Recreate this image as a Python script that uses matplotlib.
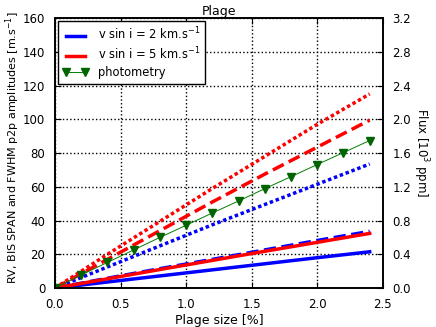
import matplotlib
matplotlib.use('Agg')
from matplotlib import pyplot as plt

# data
size = [0.0, 0.4, 0.8, 1.2, 1.6, 2.0, 2.4]
blue_solid = [0, 3.6, 7.2, 10.8, 14.4, 18.0, 21.5]
blue_dashed = [0, 5.8, 11.5, 17.0, 22.6, 28.2, 33.6]
blue_dotted = [0, 12.5, 25.0, 37.5, 49.5, 61.5, 73.5]
red_solid = [0, 5.5, 11.0, 16.4, 21.8, 27.1, 32.4]
red_dashed = [0, 17.0, 34.0, 51.0, 67.5, 83.5, 99.5]
red_dotted = [0, 20.0, 39.5, 59.0, 78.0, 97.0, 115.0]

phot_size = [0.0, 0.2, 0.4, 0.6, 0.8, 1.0, 1.2, 1.4, 1.6, 1.8, 2.0, 2.2, 2.4]
phot_flux = [0.0, 0.156, 0.304, 0.452, 0.600, 0.744, 0.890, 1.032, 1.178, 1.320, 1.464, 1.606, 1.748]

dot = (0, (1.0, 0.8))
dash = (0, (3.5, 1.6))

fig = plt.figure(figsize=(4.36, 3.27), dpi=100)
ax = fig.add_axes([0.126, 0.119, 0.752, 0.826])
ax2 = ax.twinx()

ax.plot(size, blue_solid, color='b', lw=2.5, ls='-')
ax.plot(size, blue_dashed, color='b', lw=2.5, ls=dash)
ax.plot(size, blue_dotted, color='b', lw=2.5, ls=dot)
ax.plot(size, red_solid, color='r', lw=2.5, ls='-')
ax.plot(size, red_dashed, color='r', lw=2.5, ls=dash)
ax.plot(size, red_dotted, color='r', lw=2.5, ls=dot)

ax2.plot(phot_size, phot_flux, color='green', lw=0.7, marker='v',
         mfc='darkgreen', mec='darkgreen', ms=5.5)

ax.set_xlim(0, 2.5)
ax.set_ylim(0, 160)
ax2.set_ylim(0, 3.2)
ax.set_xticks([0.0, 0.5, 1.0, 1.5, 2.0, 2.5])
ax.set_xticklabels(['0.0', '0.5', '1.0', '1.5', '2.0', '2.5'])
ax.set_yticks(range(0, 161, 20))
ax2.set_yticks([0.0, 0.4, 0.8, 1.2, 1.6, 2.0, 2.4, 2.8, 3.2])
ax2.set_yticklabels(['0.0', '0.4', '0.8', '1.2', '1.6', '2.0', '2.4', '2.8', '3.2'])

ax.grid(True, color='k', ls=':', lw=1)
ax.tick_params(direction='in', top=True, labelsize=8.5, length=4, pad=7)
ax2.tick_params(direction='in', labelsize=8.5, length=4, pad=7)
for a in (ax, ax2):
    for s in a.spines.values():
        s.set_linewidth(1.2)

ax.set_xlabel('Plage size [%]', fontsize=9, labelpad=2)
ax.set_ylabel('RV, BIS SPAN and FWHM p2p amplitudes [m.s$^{-1}$]', fontsize=8.0)
ax.yaxis.set_label_coords(-0.10, 0.52)
ax2.set_ylabel('Flux [10$^3$ ppm]', fontsize=8.5, rotation=270, labelpad=14)
ax.set_title('Plage', fontsize=9, pad=2)

h1, = ax.plot([], [], color='b', lw=2.5, ls='-')
h2, = ax.plot([], [], color='r', lw=2.5, ls='-')
h3, = ax.plot([], [], color='green', lw=0.7, marker='v', mfc='darkgreen', mec='darkgreen', ms=5.5)
leg = ax2.legend([h1, h2, h3],
                 ['v sin i = 2 km.s$^{-1}$', 'v sin i = 5 km.s$^{-1}$', 'photometry'],
                 loc='upper left', fontsize=8.3, numpoints=2, fancybox=False,
                 framealpha=1, borderaxespad=0.3, handlelength=2.2,
                 labelspacing=0.3)
leg.get_frame().set_edgecolor('k')

fig.savefig('out.png', dpi=100)
